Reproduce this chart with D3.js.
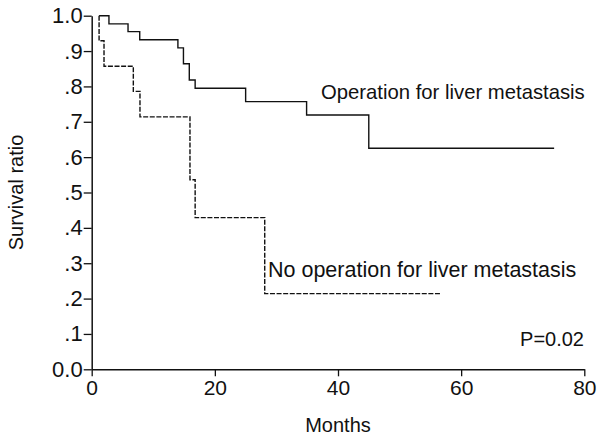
<!DOCTYPE html>
<html><head><meta charset="utf-8">
<script src="https://cdn.jsdelivr.net/npm/d3@7"></script>
<style>body{margin:0;background:#fff}svg{display:block}text{font-family:"Liberation Sans",Arial,sans-serif;fill:#111}</style>
</head><body><svg id="c" width="599" height="438"></svg>
<script>
const opTimes = [1.2, 2.8, 5.9, 7.8, 14.0, 14.9, 15.85, 16.8, 25.0, 34.9, 45.0, 75.1];
const opSurv  = [1.0, 0.977, 0.955, 0.932, 0.909, 0.864, 0.818, 0.795, 0.757, 0.719, 0.625, 0.625];
const noOpTimes = [1.2, 1.2, 2.0, 6.76, 7.84, 15.96, 16.8, 28.1, 56.7];
const noOpSurv  = [1.0, 0.929, 0.857, 0.786, 0.714, 0.536, 0.429, 0.214, 0.214];
const xTicks = [0, 20, 40, 60, 80];
const yTicks = [0, 0.1, 0.2, 0.3, 0.4, 0.5, 0.6, 0.7, 0.8, 0.9, 1.0];
const yTickLabels = ["0.0", ".1", ".2", ".3", ".4", ".5", ".6", ".7", ".8", ".9", "1.0"];
const labels = {op: "Operation for liver metastasis", noOp: "No operation for liver metastasis", p: "P=0.02", x: "Months", y: "Survival ratio"};

const svg = d3.select("#c");
const x = d3.scaleLinear().domain([0, 80]).range([91.7, 584.3]);
const y = d3.scaleLinear().domain([0, 1]).range([369.3, 15.7]);

const yAxis = d3.axisLeft(y).tickValues(yTicks).tickSize(8).tickSizeOuter(0)
  .tickFormat((d, i) => yTickLabels[i]);
const gy = svg.append("g").attr("transform", `translate(${x(0)},0)`).call(yAxis);
const xAxis = d3.axisBottom(x).tickValues(xTicks).tickSize(7).tickSizeOuter(0);
const gx = svg.append("g").attr("transform", `translate(0,${y(0)})`).call(xAxis);
[gx, gy].forEach(g => {
  g.selectAll("path").attr("stroke", "#111").attr("stroke-width", 1.5);
  g.selectAll("line").attr("stroke", "#111").attr("stroke-width", 1.3);
  g.selectAll("text").attr("fill", "#111");
});
gy.selectAll("text").attr("x", -9).style("font-size", "22px");
gx.selectAll("text").attr("y", 11).style("font-size", "21px");

const line = d3.line().x(d => x(d[0])).y(d => y(d[1])).curve(d3.curveStepAfter);
svg.append("path").datum(d3.zip(opTimes, opSurv)).attr("d", line)
  .attr("fill", "none").attr("stroke", "#111").attr("stroke-width", 1.4);
svg.append("path").datum(d3.zip(noOpTimes, noOpSurv)).attr("d", line)
  .attr("fill", "none").attr("stroke", "#111").attr("stroke-width", 1.4)
  .attr("stroke-dasharray", "5,1.6");

svg.append("text").attr("x", 321).attr("y", 99).style("font-size", "20.3px").text(labels.op);
svg.append("text").attr("x", 268).attr("y", 277).style("font-size", "21.5px").text(labels.noOp);
svg.append("text").attr("x", 584).attr("y", 346).attr("text-anchor", "end").style("font-size", "20px").text(labels.p);
svg.append("text").attr("x", x(40)).attr("y", 432).attr("text-anchor", "middle").style("font-size", "20px").text(labels.x);
svg.append("text").attr("transform", `translate(23,${y(0.5)}) rotate(-90)`).attr("text-anchor", "middle").style("font-size", "20px").text(labels.y);
</script></body></html>
